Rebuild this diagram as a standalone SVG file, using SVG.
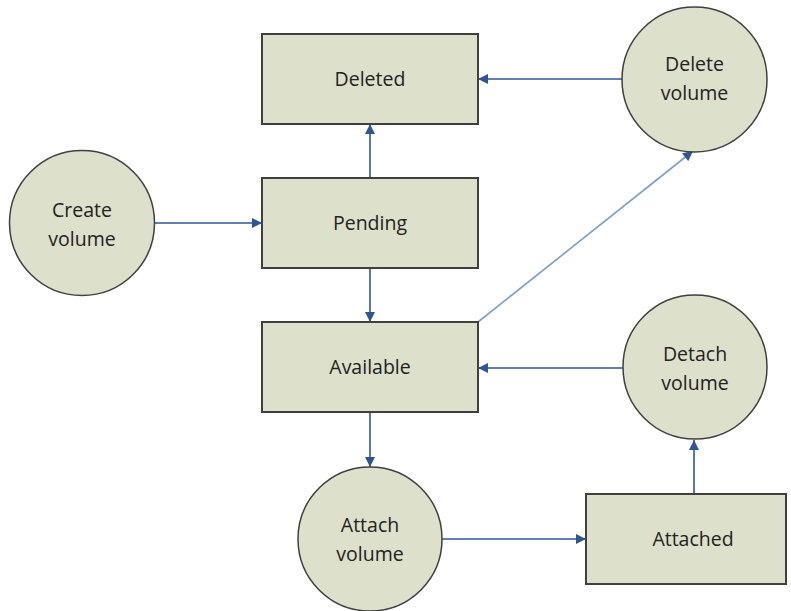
<svg xmlns="http://www.w3.org/2000/svg" width="791" height="611" viewBox="0 0 791 611">
<style>
.box{fill:#dde0cb;stroke:#404040;stroke-width:2}
.circ{fill:#dde0cb;stroke:#404040;stroke-width:1.5}
.lbl{font-family:"Open Sans",sans-serif;font-size:19.5px;fill:#222;text-anchor:middle}
.c{fill:none;stroke:#2f5597;stroke-width:1.6}
.cl{fill:none;stroke:#7f9dc6;stroke-width:1.6}
</style>
<defs>
<marker id="ah" viewBox="0 0 10 10" refX="10" refY="5" markerWidth="11" markerHeight="10" markerUnits="userSpaceOnUse" orient="auto">
<path d="M0,0 L10,5 L0,10 z" fill="#2f5597"/>
</marker>
</defs>
<g id="connectors">
<path class="c" d="M154,223 L262,223" marker-end="url(#ah)"/>
<path class="c" d="M370,178 L370,124" marker-end="url(#ah)"/>
<path class="c" d="M370,268 L370,322" marker-end="url(#ah)"/>
<path class="c" d="M370,413 L370,467" marker-end="url(#ah)"/>
<path class="c" d="M442,539 L586,539" marker-end="url(#ah)"/>
<path class="c" d="M694,494 L694,440" marker-end="url(#ah)"/>
<path class="c" d="M623,368 L478,368" marker-end="url(#ah)"/>
<path class="c" d="M622,79 L478,79" marker-end="url(#ah)"/>
<path class="cl" d="M478,322 L693,151" marker-end="url(#ah)"/>
</g>
<g id="deleted">
<rect class="box" x="262" y="34" width="216" height="90"/>
<text class="lbl" x="370" y="86">Deleted</text>
</g>
<g id="pending">
<rect class="box" x="262" y="178" width="216" height="90"/>
<text class="lbl" x="370" y="230">Pending</text>
</g>
<g id="available">
<rect class="box" x="262" y="322" width="216" height="90"/>
<text class="lbl" x="370" y="374">Available</text>
</g>
<g id="attached">
<rect class="box" x="586" y="494" width="200" height="90"/>
<text class="lbl" x="693" y="546">Attached</text>
</g>
<g id="create-volume">
<circle class="circ" cx="82" cy="223" r="72.5"/>
<text class="lbl" x="82" y="217">Create</text>
<text class="lbl" x="82" y="246">volume</text>
</g>
<g id="delete-volume">
<circle class="circ" cx="694.5" cy="79.5" r="72.5"/>
<text class="lbl" x="694.5" y="71">Delete</text>
<text class="lbl" x="694.5" y="100">volume</text>
</g>
<g id="detach-volume">
<circle class="circ" cx="695" cy="367" r="72"/>
<text class="lbl" x="695" y="361">Detach</text>
<text class="lbl" x="695" y="390">volume</text>
</g>
<g id="attach-volume">
<circle class="circ" cx="370" cy="539" r="72"/>
<text class="lbl" x="370" y="532">Attach</text>
<text class="lbl" x="370" y="561">volume</text>
</g>
</svg>
